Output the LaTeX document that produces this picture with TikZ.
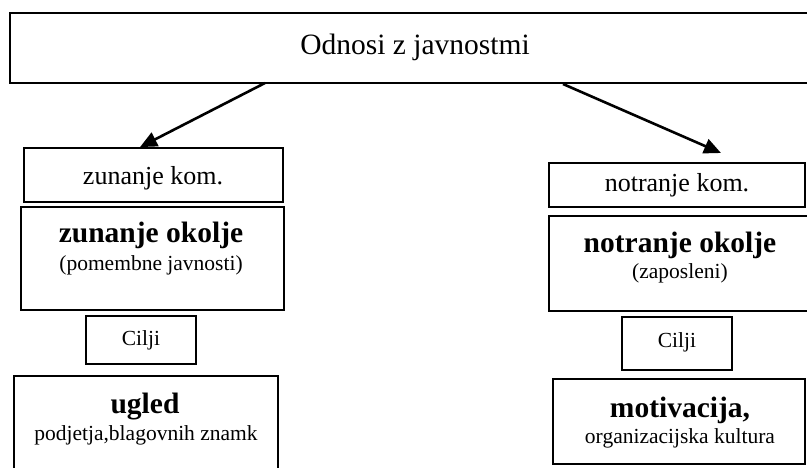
\documentclass[tikz,border=0pt]{standalone}
\usepackage{fontspec}
\setmainfont{Liberation Serif}
\usetikzlibrary{arrows.meta}
\tikzset{
  box/.style={draw, line width=1.8pt, inner sep=0pt},
  conn/.style={line width=2.6pt, -{Triangle[length=17pt,width=15pt]}},
  ttl/.style={font=\fontsize{29.5}{34}\selectfont, anchor=base, inner sep=0pt},
  kom/.style={font=\fontsize{26}{30}\selectfont, anchor=base, inner sep=0pt},
  big/.style={font=\fontsize{29.5}{34}\selectfont\bfseries, anchor=base, inner sep=0pt},
  small/.style={font=\fontsize{21.5}{26}\selectfont, anchor=base, inner sep=0pt}
}
\newcommand{\mybox}[5]{% name, x1, y1, x2, y2
  \node[box, minimum width={#4-#2}, minimum height={#5-#3}] (#1) at ({(#2+#4)/2},{(#3+#5)/2}) {};}
\begin{document}
\begin{tikzpicture}[x=1pt,y=-1pt]
\useasboundingbox (0,0) rectangle (807,468);
\begin{scope}
\clip (0,0) rectangle (807,468);
% boxes
\mybox{top}{10}{13}{815}{83}
\mybox{zk}{24}{148}{283}{202}
\mybox{zo}{21}{207}{284}{310}
\mybox{cl}{86}{316}{196}{364}
\mybox{ug}{14}{376}{278}{475}
\mybox{nk}{549}{163}{805}{207}
\mybox{no}{549}{216}{815}{311}
\mybox{cr}{622}{317}{732}{370}
\mybox{mo}{553}{379}{805}{464}
\end{scope}
% texts
\node[ttl] (ttop) at (415,55) {Odnosi z javnostmi};
\node[kom] (tzk) at (153,185) {zunanje kom.};
\node[kom] (tnk) at (677,192) {notranje kom.};
\node[big] (tzo1) at (151,243) {zunanje okolje};
\node[small] (tzo2) at (151,270) {(pomembne javnosti)};
\node[big] (tno1) at (680,253) {notranje okolje};
\node[small] (tno2) at (680,279) {(zaposleni)};
\node[small] (tcl) at (141,345) {Cilji};
\node[small] (tcr) at (677,347) {Cilji};
\node[big] (tug1) at (145,413) {ugled};
\node[small] (tug2) at (146,440) {podjetja,blagovnih znamk};
\node[big] (tmo1) at (680,417) {motivacija,};
\node[small] (tmo2) at (680,443) {organizacijska kultura};
% connectors
\coordinate (la) at (265,83);
\coordinate (ra) at (563,84);
\coordinate (rt) at (721,153);
\draw[conn] (la) -- (zk.north -| 140,0);
\draw[conn] (ra) -- (rt);
\end{tikzpicture}
\end{document}
